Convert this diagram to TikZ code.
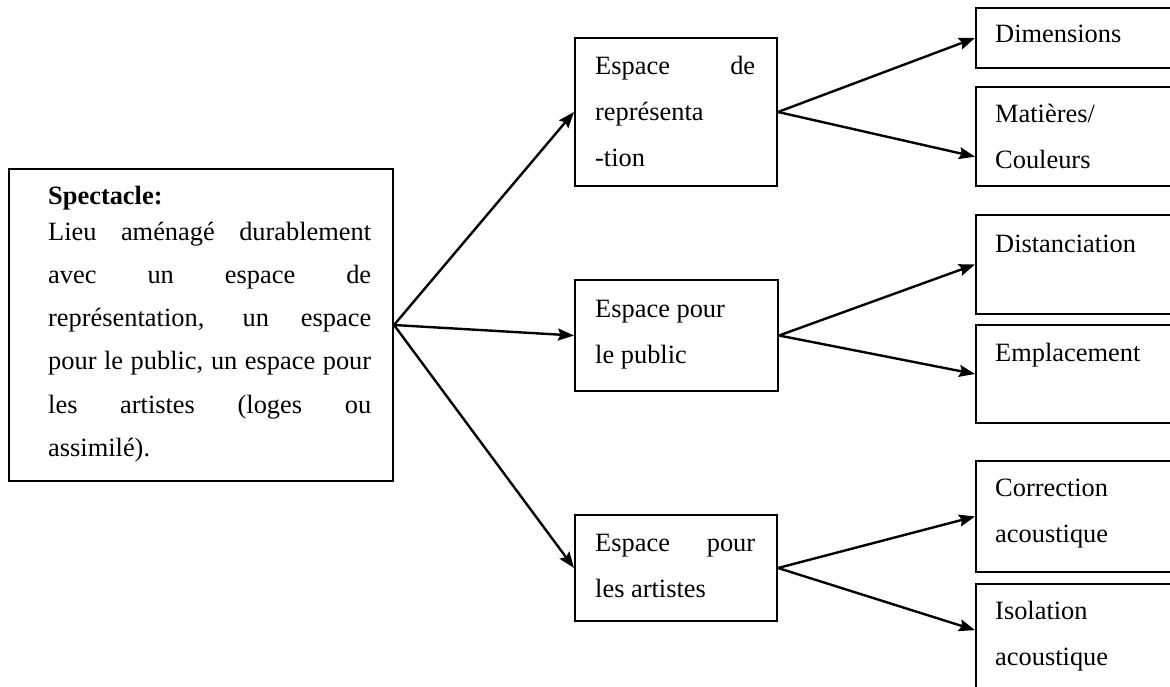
\documentclass[tikz,border=0pt]{standalone}
\usepackage{fontspec}
\setmainfont{Liberation Serif}
\usetikzlibrary{arrows.meta,calc}
\newcommand\mystrut{\rule{0pt}{30pt}}
\begin{document}
\begin{tikzpicture}[x=1pt,y=-1pt,
  box/.style={draw, line width=2pt, inner sep=0pt, anchor=north west},
  txt/.style={anchor=north west, inner sep=0pt, align=left, font=\fontsize{26.4}{46}\selectfont},
  arr/.style={line width=2.4pt, -{Stealth[length=16pt,width=12pt,inset=2.5pt]}}]
\useasboundingbox (0,0) rectangle (1170,687);
\clip (0,0) rectangle (1170,687);
% boxes
\node[box, minimum width=384pt, minimum height=312pt] (L) at (8,168) {};
\node[box, minimum width=202pt, minimum height=148pt] (B1) at (574,37) {};
\node[box, minimum width=203pt, minimum height=111pt] (B2) at (574,279) {};
\node[box, minimum width=202pt, minimum height=106pt] (B3) at (574,514) {};
\node[box, minimum width=250pt, minimum height=60pt] (R1) at (975,7) {};
\node[box, minimum width=250pt, minimum height=99pt] (R2) at (975,86) {};
\node[box, minimum width=250pt, minimum height=99pt] (R3) at (975,214) {};
\node[box, minimum width=250pt, minimum height=98pt] (R4) at (975,324) {};
\node[box, minimum width=250pt, minimum height=111pt] (R5) at (975,460) {};
\node[box, minimum width=250pt, minimum height=150pt] (R6) at (975,583) {};
% texts
\node[txt, font=\fontsize{26.4}{43.2}\selectfont] (tL) at (48,174) {\mystrut\textbf{Spectacle:}\\[-7.2pt]
\makebox[323pt][s]{Lieu aménagé durablement}\\
\makebox[323pt][s]{avec un espace de}\\
\makebox[323pt][s]{représentation, un espace}\\
\makebox[323pt][s]{pour le public, un espace pour}\\
\makebox[323pt][s]{les artistes (loges ou}\\
assimilé).};
\node[txt] (tB1) at (595,44) {\mystrut\makebox[160pt][s]{Espace de}\\ représenta\\ -tion};
\node[txt] (tB2) at (595,287) {\mystrut Espace pour\\ le public};
\node[txt] (tB3) at (595,521) {\mystrut\makebox[160pt][s]{Espace pour}\\ les artistes};
\node[txt] (tR1) at (995,12) {\mystrut Dimensions};
\node[txt] (tR2) at (995,92) {\mystrut Matières/\\ Couleurs};
\node[txt] (tR3) at (995,222) {\mystrut Distanciation};
\node[txt] (tR4) at (995,331) {\mystrut Emplacement};
\node[txt] (tR5) at (995,466) {\mystrut Correction\\ acoustique};
\node[txt] (tR6) at (995,589) {\mystrut Isolation\\ acoustique};
% arrows
\draw[arr] (L.east) -- (B1.west);
\draw[arr] (L.east) -- (B2.west);
\draw[arr] (L.east) -- (B3.west);
\draw[arr] (B1.east) -- (R1.west);
\draw[arr] (B1.east) -- ($(R2.north west)!0.7!(R2.south west)$);
\draw[arr] (B2.east) -- (R3.west);
\draw[arr] (B2.east) -- (R4.west);
\draw[arr] (B3.east) -- (R5.west);
\draw[arr] (B3.east) -- ($(R6.north west)!0.31!(R6.south west)$);
\end{tikzpicture}
\end{document}
